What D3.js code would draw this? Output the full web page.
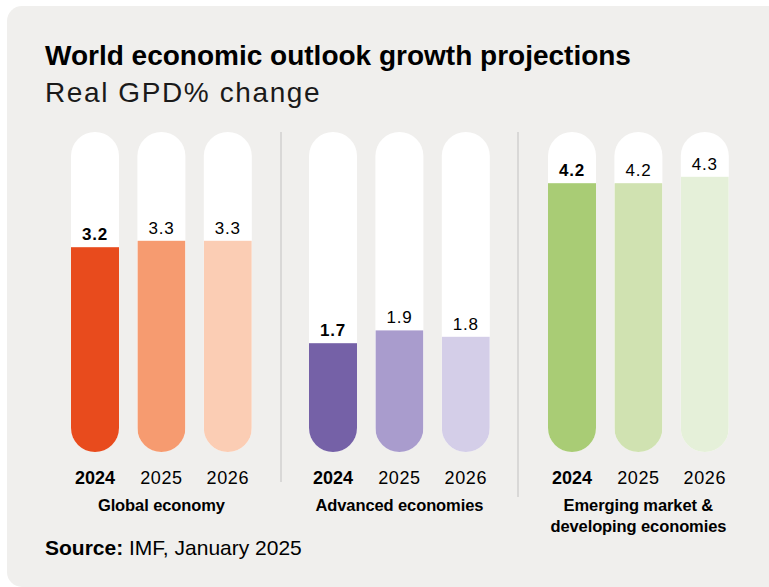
<!DOCTYPE html>
<html>
<head>
<meta charset="utf-8">
<script src="https://cdn.jsdelivr.net/npm/d3@7"></script>
<style>
  html, body { margin: 0; padding: 0; background: #ffffff; }
  svg { display: block; font-family: "Liberation Sans", Arial, sans-serif; }
</style>
</head>
<body>
<div id="chart"></div>
<script>
// data
var groups = ["Global economy", "Advanced economies", "Emerging market & developing economies"];
var years = ["2024", "2025", "2026"];
var globalVals = [3.2, 3.3, 3.3];
var advancedVals = [1.7, 1.9, 1.8];
var emergingVals = [4.2, 4.2, 4.3];
var globalColors = ["#e84b1d", "#f69b70", "#fbcdb4"];
var advancedColors = ["#7561a7", "#a99ccd", "#d4cee8"];
var emergingColors = ["#a9cc75", "#d0e2b1", "#e5f0d9"];

var W = 769, H = 587;

var series = [
  {name: groups[0], vals: globalVals, colors: globalColors, x0: 71},
  {name: groups[1], vals: advancedVals, colors: advancedColors, x0: 309},
  {name: groups[2], vals: emergingVals, colors: emergingColors, x0: 548}
];

var svg = d3.select("#chart").append("svg")
  .attr("width", W)
  .attr("height", H);

svg.append("rect")
  .attr("x", 7).attr("y", 6)
  .attr("width", 820).attr("height", 581)
  .attr("rx", 15).attr("ry", 15)
  .attr("fill", "#f0efed");

// title
svg.append("text")
  .attr("x", 45).attr("y", 65)
  .attr("font-size", 28)
  .attr("font-weight", "bold")
  .attr("fill", "#000")
  .text("World economic outlook growth projections");

svg.append("text")
  .attr("x", 45).attr("y", 102)
  .attr("font-size", 28)
  .attr("letter-spacing", 1.6)
  .attr("fill", "#1a1a1a")
  .text("Real GPD% change");

var y = d3.scaleLinear().domain([0, 5]).range([452, 132]);

// 48px bars on a 66.4px step
var x = d3.scaleBand().domain(years).range([0, 180.8]).paddingInner(0.277).paddingOuter(0);

// dividers
var dividers = [{x: 281, y2: 482}, {x: 518, y2: 497}];
svg.selectAll("line.div").data(dividers).enter().append("line")
  .attr("x1", function(d) { return d.x; })
  .attr("x2", function(d) { return d.x; })
  .attr("y1", 132)
  .attr("y2", function(d) { return d.y2; })
  .attr("stroke", "#d2d1cf")
  .attr("stroke-width", 1.5);

var defs = svg.append("defs");

series.forEach(function(s, gi) {
  var g = svg.append("g").attr("transform", "translate(" + s.x0 + ",0)");
  var bw = x.bandwidth();

  years.forEach(function(yr, i) {
    var bx = x(yr);
    var id = "pill" + gi + "_" + i;
    defs.append("clipPath").attr("id", id)
      .append("rect")
      .attr("x", bx).attr("y", y(5))
      .attr("width", bw).attr("height", y(0) - y(5))
      .attr("rx", bw / 2).attr("ry", bw / 2);

    g.append("rect")
      .attr("x", bx).attr("y", y(5))
      .attr("width", bw).attr("height", y(0) - y(5))
      .attr("rx", bw / 2).attr("ry", bw / 2)
      .attr("fill", "#ffffff");

    g.append("rect")
      .attr("clip-path", "url(#" + id + ")")
      .attr("x", bx).attr("y", y(s.vals[i]))
      .attr("width", bw).attr("height", y(0) - y(s.vals[i]))
      .attr("fill", s.colors[i]);

    g.append("text")
      .attr("x", bx + bw / 2)
      .attr("y", y(s.vals[i]) - 7)
      .attr("text-anchor", "middle")
      .attr("font-size", 17)
      .attr("font-weight", i == 0 ? "bold" : "normal")
      .attr("letter-spacing", 0.8)
      .attr("fill", "#000")
      .text(s.vals[i].toFixed(1));

    g.append("text")
      .attr("x", bx + bw / 2)
      .attr("y", 484)
      .attr("text-anchor", "middle")
      .attr("font-size", 18)
      .attr("font-weight", i == 0 ? "bold" : "normal")
      .attr("letter-spacing", i == 0 ? 0 : 0.6)
      .attr("fill", "#000")
      .text(yr);
  });

  var cx = x.range()[1] / 2;
  var label = g.append("text")
    .attr("x", cx)
    .attr("y", 511)
    .attr("text-anchor", "middle")
    .attr("font-size", 16.5)
    .attr("font-weight", "bold")
    .attr("letter-spacing", -0.1)
    .attr("fill", "#000");
  var lines = gi == 2 ? ["Emerging market &", "developing economies"] : [s.name];
  lines.forEach(function(l, li) {
    label.append("tspan").attr("x", cx).attr("dy", li == 0 ? 0 : 21).text(l);
  });
});

// source
var src = svg.append("text")
  .attr("x", 45).attr("y", 555)
  .attr("font-size", 21)
  .attr("fill", "#000");
src.append("tspan").attr("font-weight", "bold").text("Source:");
src.append("tspan").text(" IMF, January 2025");
</script>
</body>
</html>
